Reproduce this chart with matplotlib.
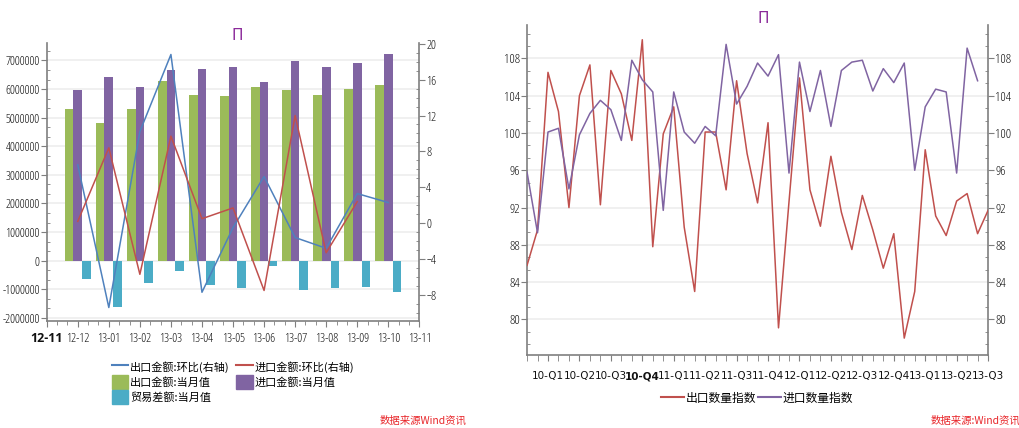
import numpy as np
import matplotlib.pyplot as plt
from matplotlib.ticker import MultipleLocator, AutoMinorLocator, FuncFormatter, FixedLocator
from matplotlib.lines import Line2D
from matplotlib.patches import Patch

plt.rcParams['font.family'] = ['Noto Sans CJK SC', 'DejaVu Sans']

# 月度进出口金额（左图）
months = ['12-11', '12-12', '13-01', '13-02', '13-03', '13-04', '13-05',
          '13-06', '13-07', '13-08', '13-09', '13-10', '13-11']
export_val = [5310000, 4820000, 5310000, 6290000, 5800000, 5760000,
              6080000, 5970000, 5800000, 6010000, 6150000]
import_val = [5970000, 6430000, 6080000, 6670000, 6710000, 6780000,
              6250000, 6990000, 6780000, 6920000, 7230000]
balance_val = [-640000, -1610000, -770000, -350000, -850000, -950000,
               -190000, -1030000, -950000, -910000, -1090000]
export_mom = [6.5, -9.4, 10.2, 18.8, -7.7, -0.5, 5.2, -1.6, -2.8, 3.3, 2.3]
import_mom = [0.2, 8.4, -5.7, 9.7, 0.5, 1.7, -7.5, 12.0, -3.3, 2.4]

# 月度数量指数（右图），2010-01 至 2013-09
quarters = ['10-Q1', '10-Q2', '10-Q3', '10-Q4', '11-Q1', '11-Q2', '11-Q3', '11-Q4',
            '12-Q1', '12-Q2', '12-Q3', '12-Q4', '13-Q1', '13-Q2', '13-Q3']
export_qty = [85.8, 89.6, 106.5, 102.3, 92.0, 104.0, 107.3, 92.3, 106.7, 104.2,
              99.2, 110.0, 87.8, 99.9, 102.8, 89.9, 83.0, 100.1, 100.1, 93.9,
              105.6, 97.8, 92.5, 101.1, 79.1, 92.6, 105.9, 93.9, 90.0, 97.5,
              91.5, 87.5, 93.3, 89.6, 85.5, 89.2, 78.0, 83.0, 98.2, 91.1,
              89.0, 92.7, 93.5, 89.2, 91.7]
import_qty = [95.8, 89.3, 100.1, 100.5, 94.0, 99.8, 102.1, 103.5, 102.5, 99.2,
              107.8, 105.7, 104.4, 91.7, 104.4, 100.1, 98.9, 100.7, 99.7, 109.5,
              103.1, 105.0, 107.5, 106.1, 108.4, 95.7, 107.6, 102.3, 106.7, 100.7,
              106.7, 107.6, 107.8, 104.5, 106.9, 105.4, 107.5, 96.0, 102.8, 104.7,
              104.4, 95.7, 109.1, 105.6]

c_green = '#9BBB59'
c_purple = '#8064A2'
c_cyan = '#4BACC6'
c_blue = '#4F81BD'
c_red = '#C0504D'
spine_c = '#7F7F7F'
grid_c = '#EDEDED'
tick_c = '#111111'

fig = plt.figure(figsize=(10.2, 4.28), dpi=100)


def style_spines(a, sides):
    for s in ['left', 'right', 'top', 'bottom']:
        a.spines[s].set_visible(s in sides)
        a.spines[s].set_color(spine_c)
        a.spines[s].set_linewidth(1.2)


def narrow_labels(labels, size):
    # 坐标轴数字用窄体
    for t in labels:
        t.set_family(['Open Sans', 'DejaVu Sans'])
        t.set_stretch('condensed')
        t.set_fontsize(size)


# ---------- 左图 ----------
ax = fig.add_axes([0.0458, 0.2507, 0.3653, 0.6488])
x = np.arange(1, len(export_val) + 1)
w = 0.28
ax.bar(x - w, export_val, w, color=c_green, zorder=2)
ax.bar(x, import_val, w, color=c_purple, zorder=2)
ax.bar(x + w, balance_val, w, color=c_cyan, zorder=2)
ax.set_xlim(0, 12)
ax.set_ylim(-2100000, 7610000)
ax.yaxis.set_major_locator(MultipleLocator(1000000))
ax.yaxis.set_minor_locator(AutoMinorLocator(3))
ax.yaxis.set_major_formatter(FuncFormatter(lambda v, p: '%d' % v))
ax.grid(axis='y', color=grid_c, lw=1.2, zorder=0)
ax.set_xticks(np.arange(len(months)))
ax.set_xticklabels(months)
ax.xaxis.set_minor_locator(AutoMinorLocator(3))
style_spines(ax, ['left', 'bottom'])
ax.tick_params(axis='both', which='major', direction='out', length=4, color=spine_c,
               labelcolor=tick_c, pad=1)
ax.tick_params(axis='y', which='minor', direction='in', length=2, color=spine_c)
ax.tick_params(axis='x', which='minor', direction='out', length=3, color=spine_c)
ax.tick_params(axis='x', pad=4)
narrow_labels(ax.get_yticklabels(), 9)
narrow_labels(ax.get_xticklabels(), 9)
ax.get_xticklabels()[0].set_fontweight('bold')

ax2 = ax.twinx()
ax2.plot(x, export_mom, color=c_blue, lw=1.1, zorder=3)
ax2.plot(x[:len(import_mom)], import_mom, color=c_red, lw=1.1, zorder=3)
ax2.set_ylim(-10.87, 20.08)
ax2.yaxis.set_major_locator(MultipleLocator(4))
ax2.yaxis.set_minor_locator(AutoMinorLocator(4))
style_spines(ax2, ['right'])
ax2.tick_params(axis='y', which='major', direction='out', length=4, color=spine_c,
                labelcolor=tick_c, pad=1)
ax2.tick_params(axis='y', which='minor', direction='in', length=2, color=spine_c)
narrow_labels(ax2.get_yticklabels(), 9)

fig.text(237.7 / 1020, 1 - 36 / 428, 'П', color='#8B2A9A', fontsize=11,
         ha='center', va='center', family='DejaVu Sans')

handles = [Line2D([], [], color=c_blue, lw=1.5),
           Patch(color=c_green),
           Patch(color=c_cyan),
           Line2D([], [], color=c_red, lw=1.5),
           Patch(color=c_purple)]
labels = ['出口金额:环比(右轴)', '出口金额:当月值', '贸易差额:当月值',
          '进口金额:环比(右轴)', '进口金额:当月值']
fig.legend(handles, labels, ncol=2, loc='center', bbox_to_anchor=(233 / 1020, 1 - 382 / 428),
           frameon=False, fontsize=8, handlelength=1.5, handleheight=1.5,
           handletextpad=0.15, labelspacing=0.15, columnspacing=0.6, borderpad=0)

fig.text(423 / 1020, 1 - 421 / 428, '数据来源Wind资讯', color='#E8262A', fontsize=7.5,
         ha='center', va='center', style='italic')

# ---------- 右图 ----------
bx = fig.add_axes([0.5167, 0.1717, 0.452, 0.7699])
bx.plot(np.arange(len(export_qty)), export_qty, color=c_red, lw=1.1, zorder=3)
bx.plot(np.arange(len(import_qty)), import_qty, color=c_purple, lw=1.1, zorder=3)
bx.set_xlim(0, 44)
bx.set_ylim(76.24, 111.58)
bx.yaxis.set_major_locator(MultipleLocator(4))
bx.yaxis.set_minor_locator(AutoMinorLocator(3))
bx.grid(axis='y', color=grid_c, lw=1.2, zorder=0)
qpos = np.arange(2, 45, 3)
bx.xaxis.set_major_locator(FixedLocator(qpos))
bx.set_xticklabels(quarters)
bx.xaxis.set_minor_locator(MultipleLocator(1))
style_spines(bx, ['left', 'right', 'bottom'])
bx.tick_params(axis='both', which='major', direction='out', length=4, color=spine_c,
               labelcolor=tick_c, pad=1)
bx.tick_params(axis='y', which='both', right=True, labelright=True)
bx.tick_params(axis='y', which='minor', direction='in', length=2, color=spine_c)
bx.tick_params(axis='x', which='minor', direction='out', length=4, color=spine_c)
bx.tick_params(axis='x', pad=8)
ylabels = []
for tk in bx.yaxis.get_major_ticks():
    ylabels += [tk.label1, tk.label2]
narrow_labels(ylabels, 9.5)
for t in bx.get_xticklabels():
    t.set_fontsize(7.5)
    t.set_family('DejaVu Sans')
bx.get_xticklabels()[3].set_fontweight('bold')

fig.text(763.3 / 1020, 1 - 18.3 / 428, 'П', color='#8B2A9A', fontsize=11,
         ha='center', va='center', family='DejaVu Sans')

fig.legend([Line2D([], [], color=c_red, lw=1.5), Line2D([], [], color=c_purple, lw=1.5)],
           ['出口数量指数', '进口数量指数'], ncol=2, loc='center',
           bbox_to_anchor=(757 / 1020, 1 - 398 / 428), frameon=False, fontsize=8.5,
           handlelength=2.0, handletextpad=0.15, columnspacing=0.1, borderpad=0)

fig.text(975 / 1020, 1 - 421 / 428, '数据来源:Wind资讯', color='#E8262A', fontsize=7.5,
         ha='center', va='center', style='italic')

fig.savefig('out.png', dpi=100)
